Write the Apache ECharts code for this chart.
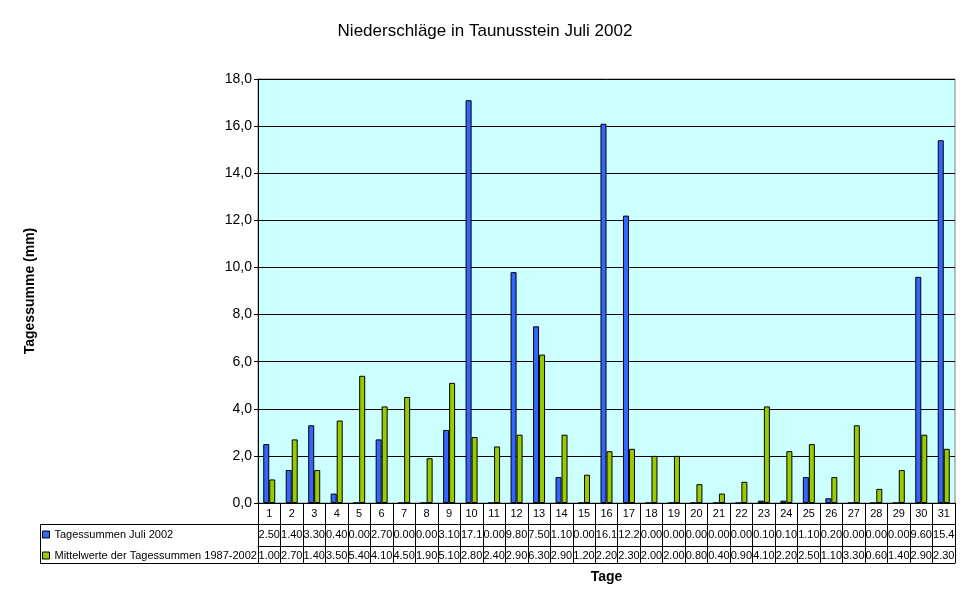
<!DOCTYPE html>
<html>
<head>
<meta charset="utf-8">
<script src="https://cdn.jsdelivr.net/npm/echarts@6/dist/echarts.min.js"></script>
<style>
  html, body { margin: 0; padding: 0; background: #fff; }
  #main { width: 970px; height: 604px; }
</style>
</head>
<body>
<div id="main"></div>
<script>
// Tage 1..31
var tage = ['1','2','3','4','5','6','7','8','9','10','11','12','13','14','15','16',
            '17','18','19','20','21','22','23','24','25','26','27','28','29','30','31'];
var juli2002 = [2.5,1.4,3.3,0.4,0.0,2.7,0.0,0.0,3.1,17.1,0.0,9.8,7.5,1.1,0.0,16.1,
                12.2,0.0,0.0,0.0,0.0,0.0,0.1,0.1,1.1,0.2,0.0,0.0,0.0,9.6,15.4];
var mittel = [1.0,2.7,1.4,3.5,5.4,4.1,4.5,1.9,5.1,2.8,2.4,2.9,6.3,2.9,1.2,2.2,
              2.3,2.0,2.0,0.8,0.4,0.9,4.1,2.2,2.5,1.1,3.3,0.6,1.4,2.9,2.3];
var serienNamen = ['Tagessummen Juli 2002', 'Mittelwerte der Tagessummen 1987-2002'];

var font = "'Liberation Sans', Arial, sans-serif";

// Werte wie in der Excel-Tabelle: 2 Nachkommastellen, auf 4 Zeichen gekuerzt
function zelle(arr) {
    return function (v, i) { return arr[i].toFixed(2).slice(0, 4); };
}

var myChart = echarts.init(document.getElementById('main'));
var option = {
    animation: false,
    textStyle: { fontFamily: font },
    title: {
        text: 'Niederschläge in Taunusstein Juli 2002',
        left: 'center',
        top: 23,
        padding: 0,
        textStyle: { fontFamily: font, fontSize: 17, fontWeight: 'normal', color: '#000' }
    },
    legend: {
        orient: 'vertical',
        left: 42,
        top: 529,
        padding: 0,
        itemGap: 10,
        itemWidth: 7,
        itemHeight: 7,
        icon: 'rect',
        itemStyle: { borderColor: '#000', borderWidth: 1 },
        textStyle: { fontFamily: font, fontSize: 11, color: '#000' },
        data: serienNamen
    },
    grid: {
        left: 258,
        right: 15,
        top: 79,
        bottom: 101,
        show: true,
        backgroundColor: '#CCFFFF',
        borderColor: '#808080',
        borderWidth: 1
    },
    graphic: [
        {
            type: 'rect',
            shape: { x: 40.5, y: 524.5, width: 218, height: 39 },
            style: { fill: null, stroke: '#000', lineWidth: 1 }
        }
    ],
    xAxis: [
        {
            type: 'category',
            data: tage,
            position: 'bottom',
            axisLine: { lineStyle: { color: '#000' } },
            axisTick: { show: true, interval: 0, length: 60, lineStyle: { color: '#000' } },
            axisLabel: { interval: 0, margin: 5, fontSize: 11, color: '#000', fontFamily: font }
        },
        {
            type: 'category',
            data: tage,
            position: 'bottom',
            offset: 21,
            axisLine: { lineStyle: { color: '#000' } },
            axisTick: { show: false },
            axisLabel: { interval: 0, margin: 5, fontSize: 11, color: '#000', fontFamily: font,
                         formatter: zelle(juli2002) }
        },
        {
            type: 'category',
            data: tage,
            position: 'bottom',
            offset: 43,
            axisLine: { lineStyle: { color: '#000' } },
            axisTick: { show: false },
            axisLabel: { interval: 0, margin: 4, fontSize: 11, color: '#000', fontFamily: font,
                         formatter: zelle(mittel) }
        },
        {
            type: 'category',
            data: tage,
            position: 'bottom',
            offset: 60,
            axisLine: { lineStyle: { color: '#000' } },
            axisTick: { show: false },
            axisLabel: { show: false },
            name: 'Tage',
            nameLocation: 'middle',
            nameGap: 7,
            nameTextStyle: { fontFamily: font, fontSize: 14, fontWeight: 'bold', color: '#000' }
        }
    ],
    yAxis: {
        type: 'value',
        min: 0,
        max: 18,
        interval: 2,
        name: 'Tagessumme (mm)',
        nameLocation: 'middle',
        nameRotate: 90,
        nameGap: 221,
        nameTextStyle: { fontFamily: font, fontSize: 14, fontWeight: 'bold', color: '#000' },
        axisLine: { show: true, lineStyle: { color: '#000' } },
        axisTick: { show: true, length: 4, lineStyle: { color: '#000' } },
        axisLabel: {
            margin: 6, fontSize: 14, color: '#000', fontFamily: font,
            formatter: function (v) { return v.toFixed(1).replace('.', ','); }
        },
        splitLine: { lineStyle: { color: '#000', width: 1 } }
    },
    series: [
        {
            name: serienNamen[0],
            type: 'bar',
            data: juli2002,
            barWidth: 6,
            barGap: '0%',
            itemStyle: { color: '#3366FF', borderColor: '#000', borderWidth: 1 }
        },
        {
            name: serienNamen[1],
            type: 'bar',
            data: mittel,
            barWidth: 6,
            barGap: '0%',
            itemStyle: { color: '#99CC00', borderColor: '#000', borderWidth: 1 }
        }
    ]
};

myChart.setOption(option);
</script>
</body>
</html>
